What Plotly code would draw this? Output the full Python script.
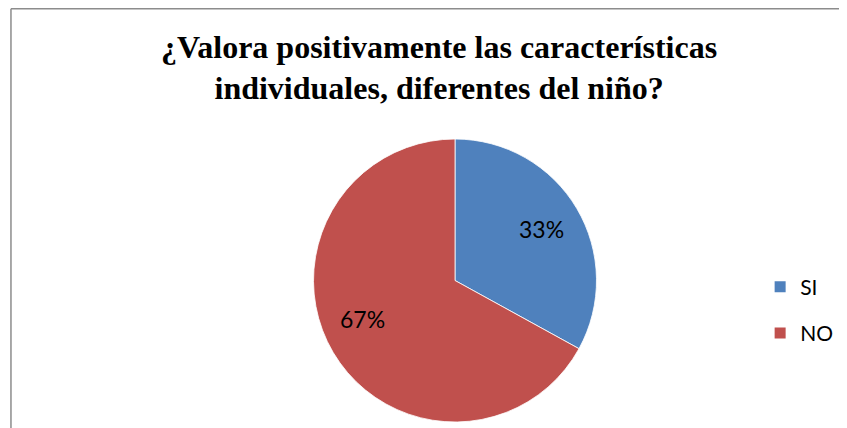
import math
import plotly.graph_objects as go

# data
labels = ["SI", "NO"]
values = [33, 67]
colors = ["#4F81BD", "#C0504D"]
title_text = "¿Valora positivamente las características<br>individuales, diferentes del niño?"

W, H = 847, 428
pie_x = [0.3601, 0.6954]
pie_y = [0.0327, 0.6939]
label_radius = [0.71, 0.755]  # fraction of the radius for each percent label

fig = go.Figure()
fig.add_trace(go.Pie(
    labels=labels,
    values=values,
    sort=False,
    direction="clockwise",
    rotation=0,
    marker=dict(colors=colors, line=dict(color="#FFFFFF", width=0.8)),
    textinfo="none",
    domain=dict(x=pie_x, y=pie_y),
    hoverinfo="label+percent",
    showlegend=False,
))

# legend entries (one group each so the gap between them can be set)
for lab, col in zip(labels, colors):
    fig.add_trace(go.Scatter(
        x=[None], y=[None], mode="markers", name=lab,
        legendgroup=lab,
        marker=dict(symbol="square", size=11, color=col),
    ))

# percentage labels at each slice's mid angle
cx = (pie_x[0] + pie_x[1]) / 2
cy = (pie_y[0] + pie_y[1]) / 2
r_px = (pie_x[1] - pie_x[0]) * W / 2
total = sum(values)
cum = 0
annotations = []
for v, f in zip(values, label_radius):
    theta = 2 * math.pi * (cum + v / 2) / total
    cum += v
    annotations.append(dict(
        x=cx + f * r_px * math.sin(theta) / W,
        y=cy + f * r_px * math.cos(theta) / H,
        xref="paper", yref="paper",
        text=f"{round(100 * v / total)}%",
        showarrow=False,
        font=dict(family="Lato", size=23, color="#000000"),
    ))

# chart frame: only the top and left edges are in view
frame = dict(color="#8C8C8C", width=1.5)
shapes = [
    dict(type="line", xref="paper", yref="paper",
         x0=0.0035, x1=1.0, y0=0.998, y1=0.998, line=frame),
    dict(type="line", xref="paper", yref="paper",
         x0=0.0035, x1=0.0035, y0=0.0, y1=0.998, line=frame),
]

fig.update_layout(
    width=W,
    height=H,
    margin=dict(l=0, r=0, t=0, b=0),
    paper_bgcolor="#FFFFFF",
    plot_bgcolor="#FFFFFF",
    xaxis=dict(visible=False),
    yaxis=dict(visible=False),
    title=dict(
        text=title_text,
        x=0.509,
        xanchor="center",
        y=0.884,
        yanchor="top",
        font=dict(family="Liberation Serif", size=32, color="#000000", weight="bold"),
    ),
    legend=dict(
        x=0.888,
        xanchor="left",
        y=0.2944,
        yanchor="middle",
        tracegroupgap=16,
        font=dict(family="Lato", size=21, color="#000000"),
        bgcolor="rgba(0,0,0,0)",
    ),
    annotations=annotations,
    shapes=shapes,
)

fig.write_html("out.html")
